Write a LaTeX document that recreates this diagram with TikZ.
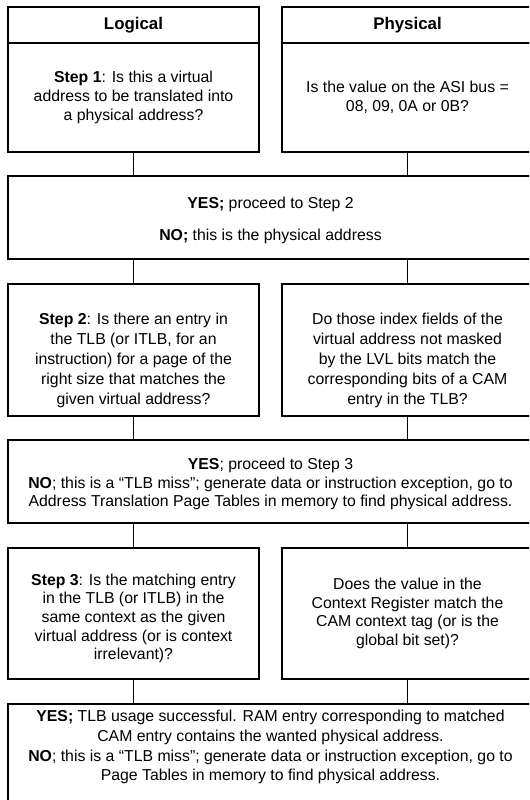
\documentclass[tikz,border=0pt]{standalone}
\usepackage{fontspec}
\setmainfont{Liberation Sans}
\usetikzlibrary{positioning}

\begin{document}
\begin{tikzpicture}[
    node distance=0.48cm and 0.46cm,
    hdr/.style={rectangle, draw, line width=0.8pt, outer sep=0pt, align=center, minimum height=0.72cm, minimum width=5.02cm, font=\fontsize{9.6}{11}\selectfont\bfseries},
    qbox/.style={rectangle, draw, line width=0.8pt, outer sep=0pt, align=center, minimum width=5.02cm, font=\fontsize{9}{10.6}\selectfont},
    wbox/.style={rectangle, draw, line width=0.8pt, outer sep=0pt, align=center, minimum width=10.5cm, font=\fontsize{9}{10.6}\selectfont},
    txt/.style={align=center, inner sep=0pt, font=\fontsize{9}{10.6}\selectfont},
    link/.style={draw, line width=0.8pt}
]
    \useasboundingbox (0,0) rectangle (10.58,-16);
    \clip (0,0) rectangle (10.58,-16);

    % column headers
    \node [hdr, anchor=north west] (loghdr) at (0.16,-0.14) {Logical};
    \node [hdr, right=of loghdr] (phyhdr) {Physical};

    % step 1
    \node [qbox, minimum height=2.18cm, below=0pt of loghdr] (step1) {\textbf{Step 1}: Is this a virtual\\address to be translated into\\a physical address?};
    \node [qbox, minimum height=2.18cm, below=0pt of phyhdr] (asibus) {Is the value on the ASI bus =\\08, 09, 0A or 0B?};
    \node [wbox, minimum height=1.66cm, below right=0.48cm and 0cm of step1.south west] (ans1) {};
    \node [txt, yshift=-0.06cm] (ans1t) at (ans1) {\textbf{YES;} proceed to Step 2\\[7.5pt]\textbf{NO;} this is the physical address};

    % step 2
    \node [qbox, minimum height=2.64cm, below right=0.5cm and 0cm of ans1.south west] (step2) {};
    \node [qbox, minimum height=2.64cm, right=of step2] (camidx) {};
    \node [txt, yshift=-0.21cm, font=\fontsize{9}{11.3}\selectfont] (step2t) at (step2) {\textbf{Step 2}: Is there an entry in\\the TLB (or ITLB, for an\\instruction) for a page of the\\right size that matches the\\given virtual address?};
    \node [txt, yshift=-0.21cm, font=\fontsize{9}{11.3}\selectfont] (camidxt) at (camidx) {Do those index fields of the\\virtual address not masked\\by the LVL bits match the\\corresponding bits of a CAM\\entry in the TLB?};
    \node [wbox, minimum height=1.66cm, below right=0.48cm and 0cm of step2.south west] (ans2) {};
    \node [txt, yshift=-0.05cm] (ans2t) at (ans2) {\textbf{YES}; proceed to Step 3\\\textbf{NO}; this is a “TLB miss”; generate data or instruction exception, go to\\Address Translation Page Tables in memory to find physical address.};

    % step 3
    \node [qbox, minimum height=2.62cm, below right=0.5cm and 0cm of ans2.south west] (step3) {};
    \node [txt, yshift=-0.1cm] (step3t) at (step3) {\textbf{Step 3}: Is the matching entry\\in the TLB (or ITLB) in the\\same context as the given\\virtual address (or is context\\irrelevant)?};
    \node [qbox, minimum height=2.62cm, right=of step3] (ctxreg) {Does the value in the\\Context Register match the\\CAM context tag (or is the\\global bit set)?};
    \node [wbox, font=\fontsize{9}{11.3}\selectfont, below right=0.5cm and 0cm of step3.south west] (ans3) {\textbf{YES;} TLB usage successful. RAM entry corresponding to matched\\CAM entry contains the wanted physical address.\\\textbf{NO}; this is a “TLB miss”; generate data or instruction exception, go to\\Page Tables in memory to find physical address.\\\rule{0pt}{1.2cm}};

    % connectors
    \draw [link] (step1.south) -- (step1.south |- ans1.north);
    \draw [link] (asibus.south) -- (asibus.south |- ans1.north);
    \draw [link] (step2.north) -- (step2.north |- ans1.south);
    \draw [link] (camidx.north) -- (camidx.north |- ans1.south);
    \draw [link] (step2.south) -- (step2.south |- ans2.north);
    \draw [link] (camidx.south) -- (camidx.south |- ans2.north);
    \draw [link] (step3.north) -- (step3.north |- ans2.south);
    \draw [link] (ctxreg.north) -- (ctxreg.north |- ans2.south);
    \draw [link] (step3.south) -- (step3.south |- ans3.north);
    \draw [link] (ctxreg.south) -- (ctxreg.south |- ans3.north);
\end{tikzpicture}
\end{document}
